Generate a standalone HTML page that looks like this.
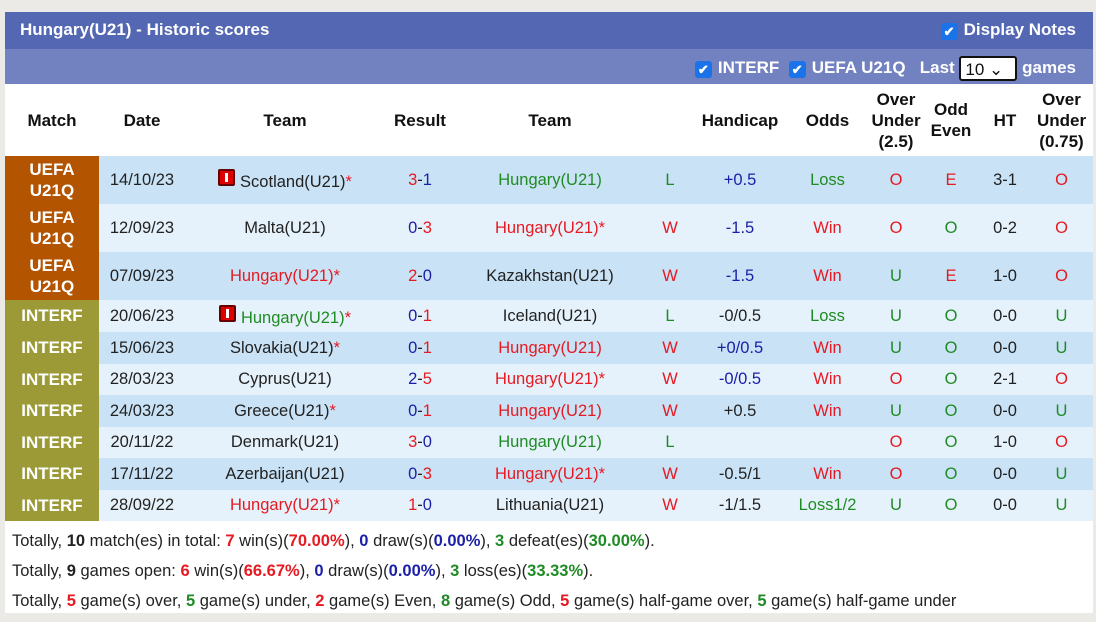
<!DOCTYPE html>
<html><head><style>
body{margin:0;background:#ebeae6;font-family:"Liberation Sans",Arial,sans-serif;}
#p{position:absolute;left:5px;top:12px;width:1088px;height:601px;background:#fff;}
.t{height:37px;background:#5467b3;color:#fff;font-weight:bold;font-size:17px;line-height:36px;padding-left:15px;position:relative}
.s{height:35px;background:#7282c1;color:#fff;font-weight:bold;font-size:17px;position:relative}
.cb{display:inline-block;width:17px;height:17px;background:#1a73e8;border-radius:3px;color:#fff;font-size:13px;line-height:17px;text-align:center;vertical-align:-1px;margin-right:6px}
table{border-collapse:collapse;table-layout:fixed;width:1088px;font-size:16.5px;}
td{text-align:center;padding:0;color:#222;white-space:nowrap}
.a td{background:#c9e2f5}.b td{background:#e6f2fb}
td.u{background:#b35400!important;color:#fff;font-weight:bold;font-size:17px;line-height:21px}
td.i{background:#9b9a37!important;color:#fff;font-weight:bold;font-size:17px}
.r{color:#e51a22}.bl{color:#1b1fa8}.g{color:#1f8b24}
.f{display:inline-block;width:13px;height:13px;background:#d00;border:2px solid #600;border-radius:2px;vertical-align:1px;margin-right:5px;position:relative}
.f:after{content:"";position:absolute;left:5px;top:2px;width:3px;height:9px;background:#fff}
.sum{font-size:16.5px;color:#222;padding-left:7px;line-height:30px}
.sum b{font-weight:bold}
</style></head><body>
<div id="p">
<div class="t">Hungary(U21) - Historic scores<span style="position:absolute;right:17px;top:0"><span class="cb">✔</span>Display Notes</span></div>
<div class="s"><span style="position:absolute;right:17px;top:7px"><span class="cb">✔</span>INTERF &nbsp;<span class="cb">✔</span>UEFA U21Q &nbsp;&nbsp;Last <span style="display:inline-block;border:2px solid #111;border-radius:3px;background:#fff;color:#111;font-weight:normal;width:58px;height:25px;line-height:23px;text-align:left;padding-left:4px;box-sizing:border-box;vertical-align:middle">10 ⌄</span> games</span></div>
<div style="height:72px;display:flex;align-items:center;font-size:17px;font-weight:bold;color:#111;line-height:21px;text-align:center">
<div style="width:94px">Match</div><div style="width:86px">Date</div><div style="width:200px">Team</div><div style="width:70px">Result</div><div style="width:190px">Team</div><div style="width:50px"></div><div style="width:90px">Handicap</div><div style="width:85px">Odds</div><div style="width:52px">Over<br>Under<br>(2.5)</div><div style="width:58px">Odd<br>Even</div><div style="width:50px">HT</div><div style="width:63px">Over<br>Under<br>(0.75)</div></div>
<table>
<colgroup><col style="width:94px"><col style="width:86px"><col style="width:200px"><col style="width:70px"><col style="width:190px"><col style="width:50px"><col style="width:90px"><col style="width:85px"><col style="width:52px"><col style="width:58px"><col style="width:50px"><col style="width:63px"></colgroup>
<tr class="a" style="height:48px"><td class="u">UEFA<br>U21Q</td><td>14/10/23</td><td><span class="f"></span>Scotland(U21)<span class="r">*</span></td><td><span class="r">3</span>-<span class="bl">1</span></td><td class="g">Hungary(U21)</td><td class="g">L</td><td class="bl">+0.5</td><td class="g">Loss</td><td class="r">O</td><td class="r">E</td><td>3-1</td><td class="r">O</td></tr>
<tr class="b" style="height:48px"><td class="u">UEFA<br>U21Q</td><td>12/09/23</td><td>Malta(U21)</td><td><span class="bl">0</span>-<span class="r">3</span></td><td class="r">Hungary(U21)*</td><td class="r">W</td><td class="bl">-1.5</td><td class="r">Win</td><td class="r">O</td><td class="g">O</td><td>0-2</td><td class="r">O</td></tr>
<tr class="a" style="height:48px"><td class="u">UEFA<br>U21Q</td><td>07/09/23</td><td class="r">Hungary(U21)*</td><td><span class="r">2</span>-<span class="bl">0</span></td><td>Kazakhstan(U21)</td><td class="r">W</td><td class="bl">-1.5</td><td class="r">Win</td><td class="g">U</td><td class="r">E</td><td>1-0</td><td class="r">O</td></tr>
<tr class="b" style="height:32px"><td class="i">INTERF</td><td>20/06/23</td><td><span class="f"></span><span class="g">Hungary(U21)</span><span class="r">*</span></td><td><span class="bl">0</span>-<span class="r">1</span></td><td>Iceland(U21)</td><td class="g">L</td><td>-0/0.5</td><td class="g">Loss</td><td class="g">U</td><td class="g">O</td><td>0-0</td><td class="g">U</td></tr>
<tr class="a" style="height:32px"><td class="i">INTERF</td><td>15/06/23</td><td>Slovakia(U21)<span class="r">*</span></td><td><span class="bl">0</span>-<span class="r">1</span></td><td class="r">Hungary(U21)</td><td class="r">W</td><td class="bl">+0/0.5</td><td class="r">Win</td><td class="g">U</td><td class="g">O</td><td>0-0</td><td class="g">U</td></tr>
<tr class="b" style="height:31px"><td class="i">INTERF</td><td>28/03/23</td><td>Cyprus(U21)</td><td><span class="bl">2</span>-<span class="r">5</span></td><td class="r">Hungary(U21)*</td><td class="r">W</td><td class="bl">-0/0.5</td><td class="r">Win</td><td class="r">O</td><td class="g">O</td><td>2-1</td><td class="r">O</td></tr>
<tr class="a" style="height:32px"><td class="i">INTERF</td><td>24/03/23</td><td>Greece(U21)<span class="r">*</span></td><td><span class="bl">0</span>-<span class="r">1</span></td><td class="r">Hungary(U21)</td><td class="r">W</td><td>+0.5</td><td class="r">Win</td><td class="g">U</td><td class="g">O</td><td>0-0</td><td class="g">U</td></tr>
<tr class="b" style="height:31px"><td class="i">INTERF</td><td>20/11/22</td><td>Denmark(U21)</td><td><span class="r">3</span>-<span class="bl">0</span></td><td class="g">Hungary(U21)</td><td class="g">L</td><td></td><td></td><td class="r">O</td><td class="g">O</td><td>1-0</td><td class="r">O</td></tr>
<tr class="a" style="height:32px"><td class="i">INTERF</td><td>17/11/22</td><td>Azerbaijan(U21)</td><td><span class="bl">0</span>-<span class="r">3</span></td><td class="r">Hungary(U21)*</td><td class="r">W</td><td>-0.5/1</td><td class="r">Win</td><td class="r">O</td><td class="g">O</td><td>0-0</td><td class="g">U</td></tr>
<tr class="b" style="height:31px"><td class="i">INTERF</td><td>28/09/22</td><td class="r">Hungary(U21)*</td><td><span class="r">1</span>-<span class="bl">0</span></td><td>Lithuania(U21)</td><td class="r">W</td><td>-1/1.5</td><td class="g">Loss1/2</td><td class="g">U</td><td class="g">O</td><td>0-0</td><td class="g">U</td></tr>
</table>
<div style="height:5px"></div>
<div class="sum">Totally, <b>10</b> match(es) in total: <b class="r">7</b> win(s)(<b class="r">70.00%</b>), <b class="bl">0</b> draw(s)(<b class="bl">0.00%</b>), <b class="g">3</b> defeat(es)(<b class="g">30.00%</b>).</div>
<div class="sum">Totally, <b>9</b> games open: <b class="r">6</b> win(s)(<b class="r">66.67%</b>), <b class="bl">0</b> draw(s)(<b class="bl">0.00%</b>), <b class="g">3</b> loss(es)(<b class="g">33.33%</b>).</div>
<div class="sum">Totally, <b class="r">5</b> game(s) over, <b class="g">5</b> game(s) under, <b class="r">2</b> game(s) Even, <b class="g">8</b> game(s) Odd, <b class="r">5</b> game(s) half-game over, <b class="g">5</b> game(s) half-game under</div>
</div>
</body></html>
